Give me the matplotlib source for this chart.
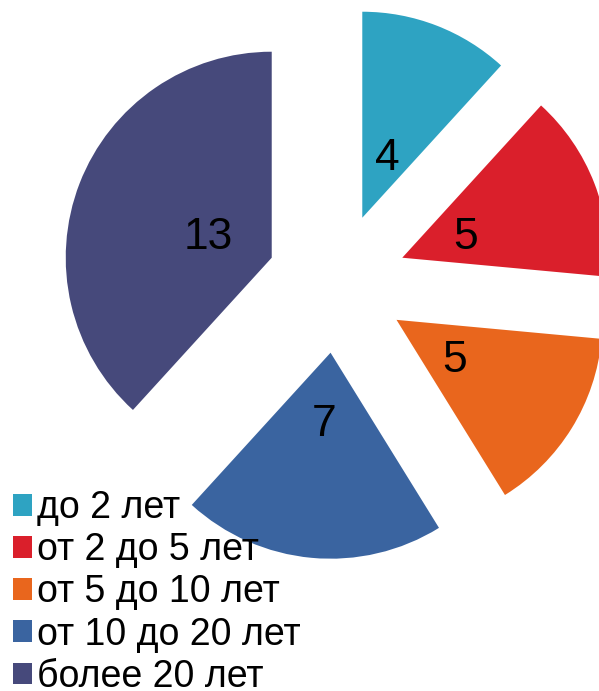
import matplotlib
matplotlib.use("Agg")
import matplotlib.pyplot as plt

categories = ["до 2 лет", "от 2 до 5 лет", "от 5 до 10 лет", "от 10 до 20 лет", "более 20 лет"]
values = [4, 5, 5, 7, 13]
colors = ["#2EA3C2", "#DA1F2B", "#E9661D", "#3A64A0", "#46497B"]

W, H = 599, 691
plt.rcParams['font.family'] = ['Liberation Sans', 'DejaVu Sans']
fig = plt.figure(figsize=(W / 100, H / 100), dpi=100)
ax = fig.add_axes([0, 0, 1, 1])

total = sum(values)
cx, cy = 337, H - 283
radius = 206
wedges, texts, autotexts = ax.pie(
    values, colors=colors, startangle=90, counterclock=False,
    center=(cx, cy), radius=radius, explode=[70] * len(values),
    autopct=lambda p: f"{round(p * total / 100)}", pctdistance=0.33,
    wedgeprops=dict(linewidth=0), textprops=dict(fontsize=32, color="black"),
    frame=True,
)
for t in autotexts:
    t.set_verticalalignment('center_baseline')
ax.set_xlim(0, W)
ax.set_ylim(0, H)
ax.set_aspect('equal')
ax.axis('off')

leg = ax.legend(wedges, categories, loc='upper left',
                bbox_to_anchor=(13 / W, 1 - 490 / H), frameon=False,
                fontsize=27, borderpad=0, borderaxespad=0,
                handlelength=0.51, handleheight=0.51, handletextpad=0.13,
                labelspacing=0.165)

fig.savefig("out.png", dpi=100)
